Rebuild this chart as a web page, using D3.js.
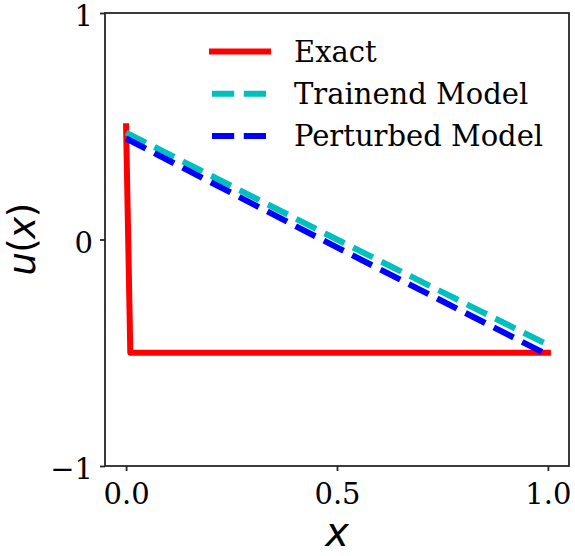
<!DOCTYPE html>
<html>
<head>
<meta charset="utf-8">
<script src="https://cdn.jsdelivr.net/npm/d3@7"></script>
<style>
  html, body { margin: 0; padding: 0; background: #fff; }
  svg { display: block; }
</style>
</head>
<body>
<svg id="chart" width="575" height="556"></svg>
<script>
// ---- data ----
const exactX = [0, 0.01, 1];
const exactY = [0.5, -0.5, -0.5];
const modelX = [0, 0.5, 1];
const trainedY = [0.472, 0.0, -0.465];
const perturbedY = [0.446, -0.035, -0.51];
const xTicks = [0, 0.5, 1.0];
const yTicks = [-1, 0, 1];
const seriesNames = ["Exact", "Trainend Model", "Perturbed Model"];
const seriesColors = ["#ff0000", "#00bfbf", "#0000ff"];

// ---- layout ----
const svg = d3.select("#chart");
const L = 105, R = 569, T = 13, B = 466;
const x = d3.scaleLinear().domain([-0.05, 1.05]).range([L, R]);
const y = d3.scaleLinear().domain([-1, 1]).range([B, T]);
const serif = "'DejaVu Serif', serif";
const frameColor = "#262626";

// axes
const xAxis = d3.axisBottom(x).tickValues(xTicks).tickFormat(d3.format(".1f"))
  .tickSizeInner(5).tickSizeOuter(0).tickPadding(12.5);
const gx = svg.append("g").attr("transform", `translate(0,${B})`).call(xAxis);
const yAxis = d3.axisLeft(y).tickValues(yTicks).tickFormat(d => d < 0 ? "\u2212" + Math.abs(d) : String(d))
  .tickSizeInner(5).tickSizeOuter(0).tickPadding(7);
const gy = svg.append("g").attr("transform", `translate(${L},0)`).call(yAxis);
[gx, gy].forEach(g => {
  g.select(".domain").remove();
  g.selectAll(".tick line").attr("stroke", frameColor).attr("stroke-width", 1.8);
  g.selectAll(".tick text").attr("fill", "#000").style("font-family", serif).style("font-size", "29px");
});
gy.selectAll(".tick text").attr("dy", "12.5px");

// lines
const line = d3.line().x(d => x(d[0])).y(d => y(d[1]));
const exactData = exactX.map((v, i) => [v, exactY[i]]);
const trainedData = modelX.map((v, i) => [v, trainedY[i]]);
const perturbedData = modelX.map((v, i) => [v, perturbedY[i]]);

const plot = svg.append("g");
plot.append("path").datum(exactData).attr("d", line)
  .attr("fill", "none").attr("stroke", seriesColors[0]).attr("stroke-width", 6)
  .attr("stroke-linecap", "square").attr("stroke-linejoin", "round");
plot.append("path").datum(trainedData).attr("d", line)
  .attr("fill", "none").attr("stroke", seriesColors[1]).attr("stroke-width", 6)
  .attr("stroke-dasharray", "22.2,9.6");
plot.append("path").datum(perturbedData).attr("d", line)
  .attr("fill", "none").attr("stroke", seriesColors[2]).attr("stroke-width", 6)
  .attr("stroke-dasharray", "22.2,9.6");

// frame
svg.append("rect").attr("x", L).attr("y", T).attr("width", R - L).attr("height", B - T)
  .attr("fill", "none").attr("stroke", frameColor).attr("stroke-width", 1.8);

// legend
const legend = svg.append("g");
const legY0 = 51.5, legStep = 42.2, hx0 = 212, hx1 = 268;
seriesNames.forEach((name, i) => {
  const ly = legY0 + i * legStep;
  const ln = legend.append("line").attr("x1", hx0).attr("x2", hx1).attr("y1", ly).attr("y2", ly)
    .attr("stroke", seriesColors[i]).attr("stroke-width", 6);
  if (i === 0) ln.attr("stroke-linecap", "square");
  else ln.attr("stroke-dasharray", "22.2,9.6");
  legend.append("text").attr("x", 294).attr("y", ly + 10.5)
    .style("font-family", serif).style("font-size", "29px").attr("fill", "#000")
    .text(name);
});

// axis labels
const sans = "'DejaVu Sans', sans-serif";
svg.append("text").attr("x", (L + R) / 2).attr("y", 546).attr("text-anchor", "middle")
  .style("font-family", sans).style("font-size", "40px").style("font-style", "italic")
  .text("x");
const yl = svg.append("text").attr("transform", `translate(34.5,${(T + B) / 2}) rotate(-90)`)
  .attr("text-anchor", "middle").style("font-family", sans).style("font-size", "37px")
  .style("letter-spacing", "-0.5px");
yl.append("tspan").style("font-style", "italic").text("u");
yl.append("tspan").text("(");
yl.append("tspan").style("font-style", "italic").text("x");
yl.append("tspan").text(")");
</script>
</body>
</html>
